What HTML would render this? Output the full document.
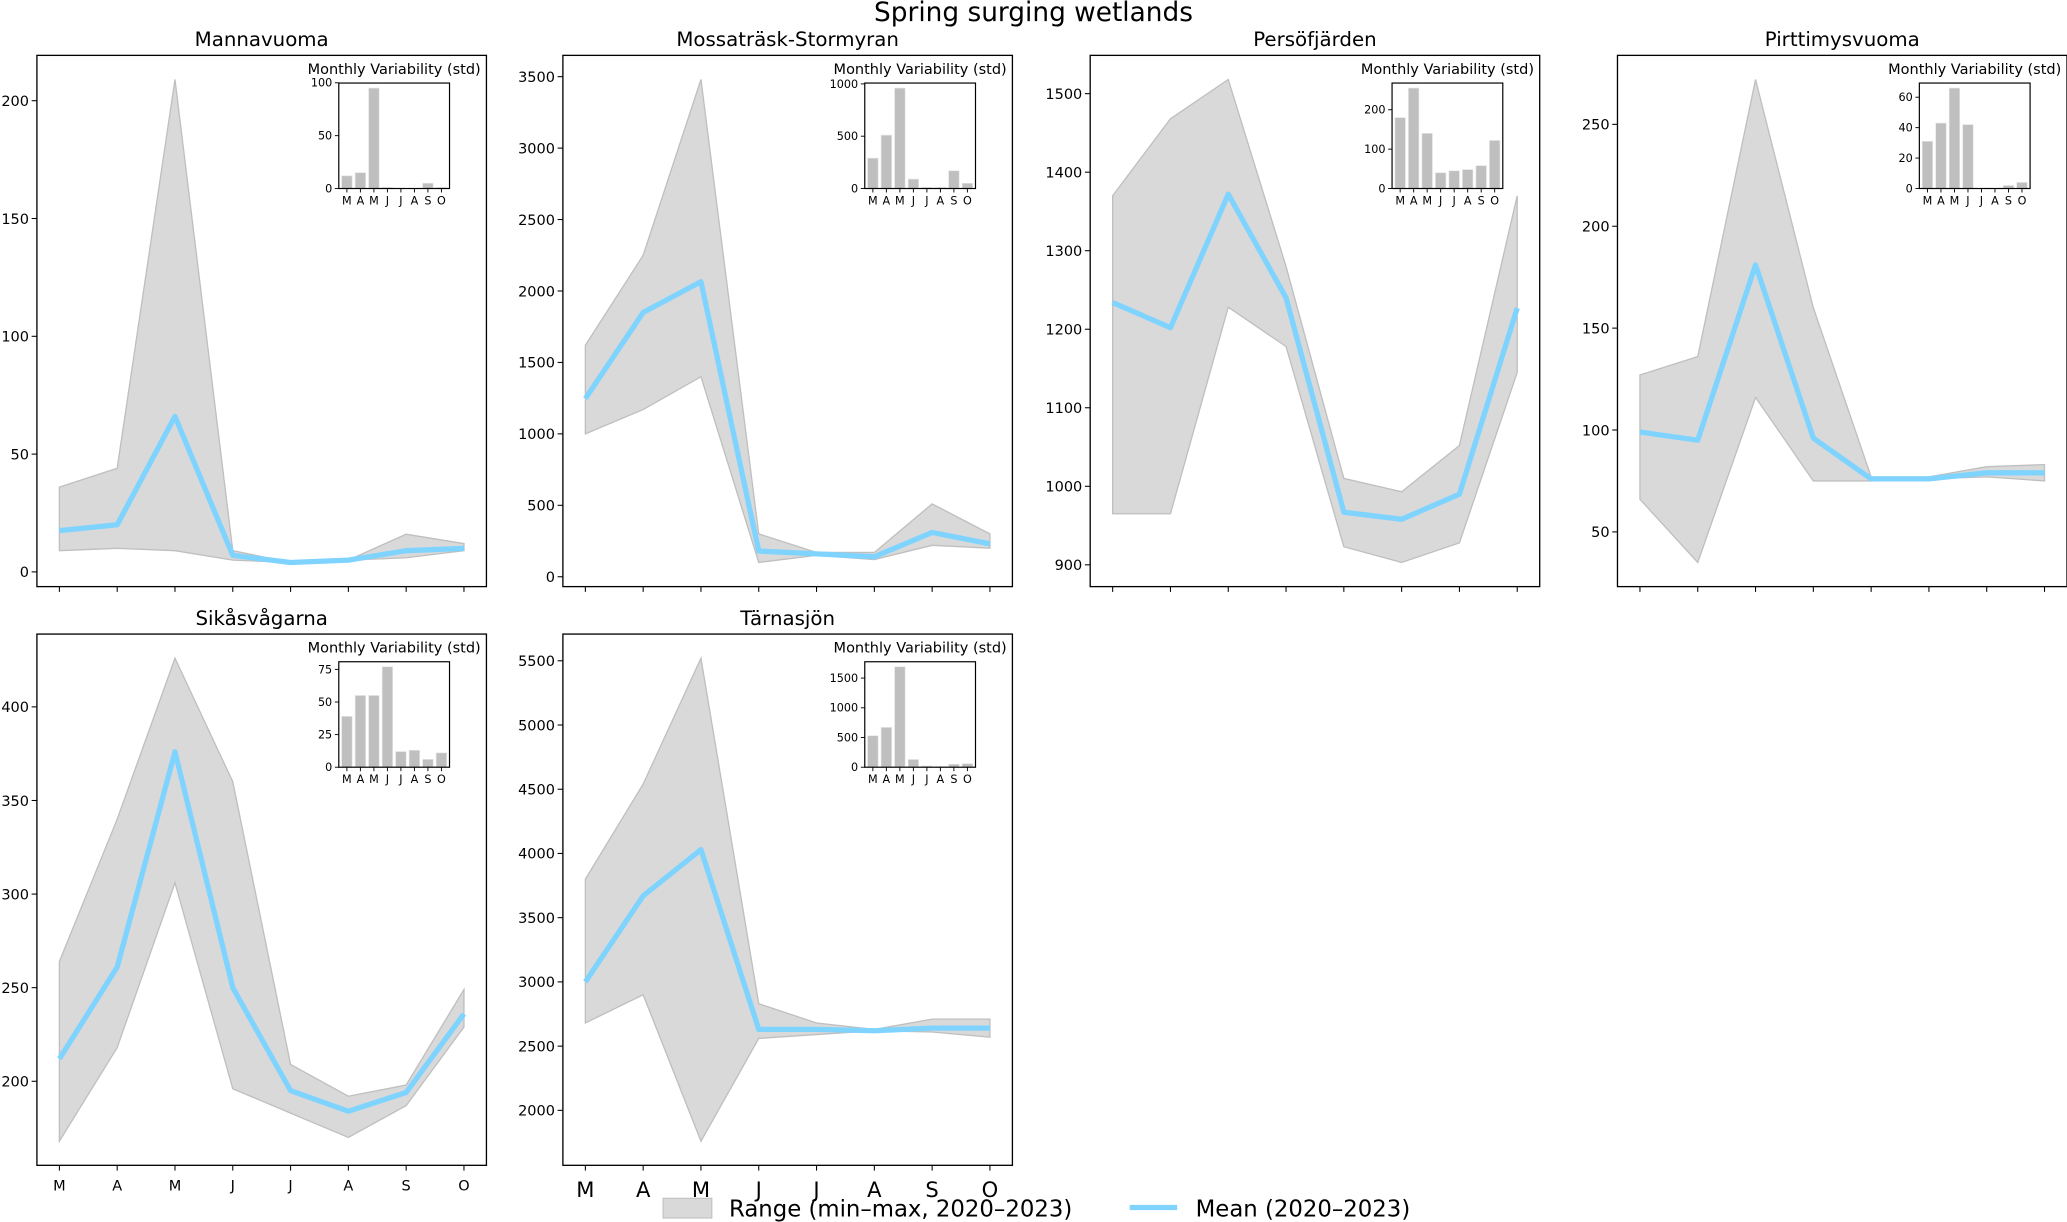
<!DOCTYPE html>
<html><head><meta charset="utf-8"><style>
html,body{margin:0;padding:0;background:#fff;}
svg{display:block;font-family:"DejaVu Sans","Liberation Sans",sans-serif;}
</style></head><body>
<svg id="fig" width="2067" height="1222" viewBox="0 0 1568 927" xmlns="http://www.w3.org/2000/svg">
<rect width="1568" height="927" fill="#fff"/>
<text x="784" y="16" font-size="20" text-anchor="middle">Spring surging wetlands</text>
<g>
<rect x="503" y="909" width="37" height="15" fill="#d9d9d9" stroke="#bfbfbf" stroke-width="0.8"/>
<text x="553" y="923" font-size="17.3">Range (min–max, 2020–2023)</text>
<line x1="857" y1="916" x2="893" y2="916" stroke="#7fd3ff" stroke-width="4"/>
<text x="907" y="923" font-size="17.3">Mean (2020–2023)</text>
</g>
</svg>
<script>
const months = ["M","A","M","J","J","A","S","O"];
const names = ["Mannavuoma","Mossaträsk-Stormyran","Persöfjärden","Pirttimysvuoma","Sikåsvågarna","Tärnasjön"];
const meanMann = [17.5,20,66,7,4,5,9,10];
const maxMann = [36,44,209,9,4,5,16,12];
const minMann = [9,10,9,5,4,5,6,9];
const stdMann = [12,15,95,1,0,0,5,1];
const meanMoss = [1247,1850,2065,180,160,140,310,230];
const maxMoss = [1620,2250,3480,300,170,170,510,300];
const minMoss = [1000,1170,1400,100,150,120,220,200];
const stdMoss = [290,510,960,90,10,10,170,50];
const meanPers = [1234,1202,1372,1240,967,958,990,1227];
const maxPers = [1370,1468,1518,1280,1010,993,1052,1370];
const minPers = [965,965,1228,1178,923,903,928,1145];
const stdPers = [180,255,140,40,45,48,58,122];
const meanPirt = [99,95,181,96,76,76,79,79];
const maxPirt = [127,136,272,160,77,77,82,83];
const minPirt = [66,35,116,75,75,76,77,75];
const stdPirt = [31,43,66,42,0,0,2,4];
const meanSika = [212,261,376,250,195,184,194,236];
const maxSika = [264,340,426,360,209,192,198,249];
const minSika = [168,218,306,196,183,170,187,229];
const stdSika = [39,55,55,77,12,13,6,11];
const meanTarn = [3000,3670,4030,2630,2630,2620,2640,2640];
const maxTarn = [3800,4540,5520,2830,2680,2630,2710,2710];
const minTarn = [2680,2900,1760,2560,2590,2620,2610,2570];
const stdTarn = [530,670,1690,130,20,10,50,60];
const yTicksMann=[0,50,100,150,200], yTicksMoss=[0,500,1000,1500,2000,2500,3000,3500],
 yTicksPers=[900,1000,1100,1200,1300,1400,1500], yTicksPirt=[50,100,150,200,250],
 yTicksSika=[200,250,300,350,400], yTicksTarn=[2000,2500,3000,3500,4000,4500,5000,5500];
const iTicksMann=[0,50,100], iTicksMoss=[0,500,1000], iTicksPers=[0,100,200], iTicksPirt=[0,20,40,60],
 iTicksSika=[0,25,50,75], iTicksTarn=[0,500,1000,1500];

const NS="http://www.w3.org/2000/svg";
const fig=document.getElementById('fig');
function el(tag,attrs,parent){const e=document.createElementNS(NS,tag);for(const k in attrs)e.setAttribute(k,attrs[k]);(parent||fig).appendChild(e);return e;}

const panels=[
 {mean:meanMann,max:maxMann,min:minMann,std:stdMann,yt:yTicksMann,it:iTicksMann,x:28,y:42,xl:0},
 {mean:meanMoss,max:maxMoss,min:minMoss,std:stdMoss,yt:yTicksMoss,it:iTicksMoss,x:427,y:42,xl:0},
 {mean:meanPers,max:maxPers,min:minPers,std:stdPers,yt:yTicksPers,it:iTicksPers,x:827,y:42,xl:0},
 {mean:meanPirt,max:maxPirt,min:minPirt,std:stdPirt,yt:yTicksPirt,it:iTicksPirt,x:1227,y:42,xl:0},
 {mean:meanSika,max:maxSika,min:minSika,std:stdSika,yt:yTicksSika,it:iTicksSika,x:28,y:481,xl:11},
 {mean:meanTarn,max:maxTarn,min:minTarn,std:stdTarn,yt:yTicksTarn,it:iTicksTarn,x:427,y:481,xl:16}
];
const W=341,H=403;
panels.forEach((p,pi)=>{
 const g=el('g',{});
 
 
 let lo=Math.min(...p.min),hi=Math.max(...p.max),pad=(hi-lo)*0.05;lo-=pad;hi+=pad;
 const sx=i=>p.x+W*(0.05+0.9*i/7);
 const sy=v=>p.y+H-(v-lo)/(hi-lo)*H;
 const t=el('text',{x:p.x+W/2,y:p.y-7,'font-size':15,'text-anchor':'middle'},g);
 t.textContent=names[pi];
 
 
 let pts=p.max.map((v,i)=>sx(i)+','+sy(v)).concat(p.min.map((v,i)=>[i,v]).reverse().map(a=>sx(a[0])+','+sy(a[1])));
 const poly=el('polygon',{points:pts.join(' '),fill:'#d9d9d9',stroke:'#bfbfbf','stroke-width':1},g);
 
 
 const ln=el('polyline',{points:p.mean.map((v,i)=>sx(i)+','+sy(v)).join(' '),fill:'none',stroke:'#7fd3ff','stroke-width':4,'stroke-linejoin':'round'},g);
 
 
 const fr=el('rect',{x:p.x,y:p.y,width:W,height:H,fill:'none',stroke:'#000','stroke-width':1},g);
 
 
 p.yt.forEach(v=>{
  const y=sy(v);
  el('line',{x1:p.x-4,x2:p.x,y1:y,y2:y,stroke:'#000','stroke-width':0.8},g);
  const tx=el('text',{x:p.x-6,y:y+4,'font-size':11,'text-anchor':'end'},g);
  tx.textContent=v;
  
  
 });
 months.forEach((m,i)=>{
  const x=sx(i);
  el('line',{x1:x,x2:x,y1:p.y+H,y2:p.y+H+4,stroke:'#000','stroke-width':0.8},g);
  if(p.xl){
   const tx=el('text',{x:x,y:p.y+H+8+p.xl,'font-size':p.xl,'text-anchor':'middle'},g);
   tx.textContent=m;
   
   
  }
 });
 const ix=p.x+229, iy=p.y+21, iw=84, ih=80;
 const ig=el('g',{},g);
 
 
 const it=el('text',{x:ix+iw/2,y:iy-7,'font-size':11,'text-anchor':'middle'},ig);
 it.textContent='Monthly Variability (std)';
 
 
 const imax=Math.max(...p.std)*1.05;
 const bx=i=>ix+iw*((i+0.6)/8.2);
 const by=v=>iy+ih-v/imax*ih;
 p.std.forEach((v,i)=>{
  const b=el('rect',{x:bx(i)-4,y:by(v),width:8,height:Math.max(0,iy+ih-by(v)),fill:'#bfbfbf',stroke:'#e6e6e6','stroke-width':0.5},ig);
  
  
  el('line',{x1:bx(i),x2:bx(i),y1:iy+ih,y2:iy+ih+3,stroke:'#000','stroke-width':0.7},ig);
  const tx=el('text',{x:bx(i),y:iy+ih+12,'font-size':8.5,'text-anchor':'middle'},ig);
  tx.textContent=months[i];
  
  
 });
 p.it.forEach(v=>{
  const y=by(v);
  el('line',{x1:ix-3,x2:ix,y1:y,y2:y,stroke:'#000','stroke-width':0.7},ig);
  const tx=el('text',{x:ix-5,y:y+3,'font-size':8.5,'text-anchor':'end'},ig);
  tx.textContent=v;
  
  
 });
 el('rect',{x:ix,y:iy,width:iw,height:ih,fill:'none',stroke:'#000','stroke-width':0.9},ig);
});
</script>
</body></html>
